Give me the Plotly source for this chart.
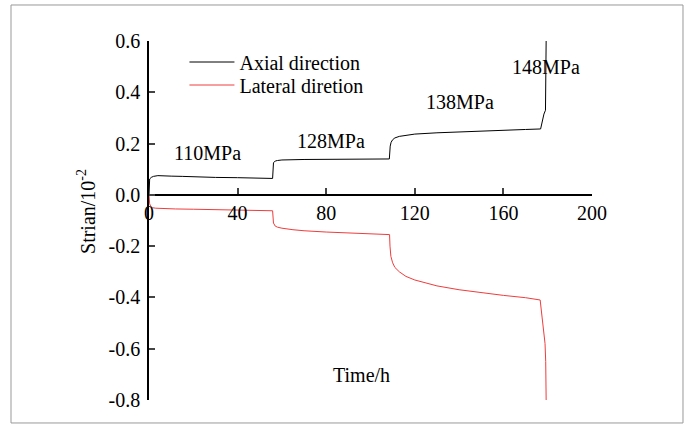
import plotly.graph_objects as go

# Axial strain (black)
axial_t = [0, 0.3, 1, 2, 4, 6, 10, 15, 20, 30, 40, 50, 55.8,
           56.2, 57, 58, 60, 70, 80, 90, 100, 108.5,
           108.9, 109.3, 110, 111, 113, 116, 120, 130, 140, 150, 160, 170, 176.8,
           177.5, 178.3, 179, 179.2, 179.3]
axial_v = [0.0, 0.062, 0.068, 0.072, 0.075, 0.075, 0.073, 0.072, 0.07, 0.068, 0.067, 0.066, 0.064,
           0.125, 0.132, 0.134, 0.136, 0.138, 0.139, 0.139, 0.14, 0.14,
           0.19, 0.205, 0.215, 0.222, 0.228, 0.233, 0.237, 0.242, 0.246, 0.249, 0.252, 0.255, 0.257,
           0.29, 0.315, 0.33, 0.45, 0.6]

# Lateral strain (red)
lateral_t = [0, 0.3, 0.8, 1.5, 3, 5, 8, 12, 20, 30, 40, 50, 55.8,
             56.2, 57, 58, 60, 65, 70, 80, 90, 100, 108.6,
             108.8, 109.2, 110, 111, 113, 116, 120, 125, 130, 140, 150, 160, 170, 176.6,
             177.5, 178.2, 178.8, 179.1, 179.3]
lateral_v = [0.0, -0.035, -0.045, -0.05, -0.052, -0.053, -0.054, -0.055, -0.056, -0.058, -0.059, -0.06, -0.062,
             -0.11, -0.122, -0.126, -0.13, -0.136, -0.14, -0.145, -0.148, -0.151, -0.155,
             -0.2, -0.24, -0.265, -0.283, -0.3, -0.318, -0.332, -0.345, -0.355, -0.37, -0.382, -0.392, -0.401, -0.41,
             -0.48, -0.54, -0.58, -0.65, -0.8]

stress_labels = ["110MPa", "128MPa", "138MPa", "148MPa"]
stress_x = [26.2, 82.2, 140.4, 179.2]
stress_y = [0.164, 0.211, 0.363, 0.499]

x_ticks = [0, 40, 80, 120, 160, 200]
y_ticks = [-0.8, -0.6, -0.4, -0.2, 0.0, 0.2, 0.4, 0.6]
y_ticktext = ["-0.8", "-0.6", "-0.4", "-0.2", "0.0", "0.2", "0.4", "0.6"]

FONT = "Liberation Serif"
FS = 20

fig = go.Figure()
fig.add_trace(go.Scatter(x=axial_t, y=axial_v, mode="lines", name="Axial direction",
                         line=dict(color="black", width=1), xaxis="x2", legend="legend"))
fig.add_trace(go.Scatter(x=lateral_t, y=lateral_v, mode="lines", name="Lateral diretion",
                         line=dict(color="#f03c3c", width=1), xaxis="x2", legend="legend2"))

for lab, sx, sy in zip(stress_labels, stress_x, stress_y):
    fig.add_annotation(x=sx, y=sy, xref="x2", yref="y", text=lab, showarrow=False,
                       font=dict(family=FONT, size=FS, color="black"))

ymin, ymax = -0.8, 0.6
leg_common = dict(x=0.08, xanchor="left", yanchor="middle", bgcolor="rgba(0,0,0,0)",
                  font=dict(family=FONT, size=FS), itemwidth=45)
fig.update_layout(
    width=689, height=427,
    margin=dict(l=149, r=97, t=41, b=27),
    paper_bgcolor="white", plot_bgcolor="white",
    font=dict(family=FONT, size=FS, color="black"),
    showlegend=True,
    legend=dict(y=0.9415, **leg_common),
    legend2=dict(y=0.8774, **leg_common),
    xaxis=dict(visible=False, range=[0, 200]),
    xaxis2=dict(range=[0, 200], tickvals=x_ticks, ticks="inside", ticklen=6, tickwidth=1.5,
                showline=True, linecolor="black", linewidth=1.5, showgrid=False, zeroline=False,
                anchor="free", overlaying="x", side="bottom",
                position=(0 - ymin) / (ymax - ymin), tickfont=dict(family=FONT, size=FS)),
    yaxis=dict(range=[ymin, ymax], tickvals=y_ticks, ticktext=y_ticktext, ticks="inside", ticklen=6,
               tickwidth=1.5, showline=True, linecolor="black", linewidth=1.5, showgrid=False,
               zeroline=False, ticklabelstandoff=3, tickfont=dict(family=FONT, size=FS)),
)

fig.add_annotation(x=0.479, y=0.07, xref="paper", yref="paper", text="Time/h", showarrow=False,
                   xanchor="center", yanchor="middle", font=dict(family=FONT, size=FS))
fig.add_annotation(x=-0.142, y=0.524, xref="paper", yref="paper", text="Strian/10<sup>-2</sup>",
                   showarrow=False, textangle=-90, xanchor="center", yanchor="middle",
                   font=dict(family=FONT, size=FS))

fig.add_shape(type="rect", xref="paper", yref="paper", x0=-0.3115, x1=1.2054, y0=-0.064, y1=1.1003,
              line=dict(color="#999999", width=1))

fig.write_html("out.html")
